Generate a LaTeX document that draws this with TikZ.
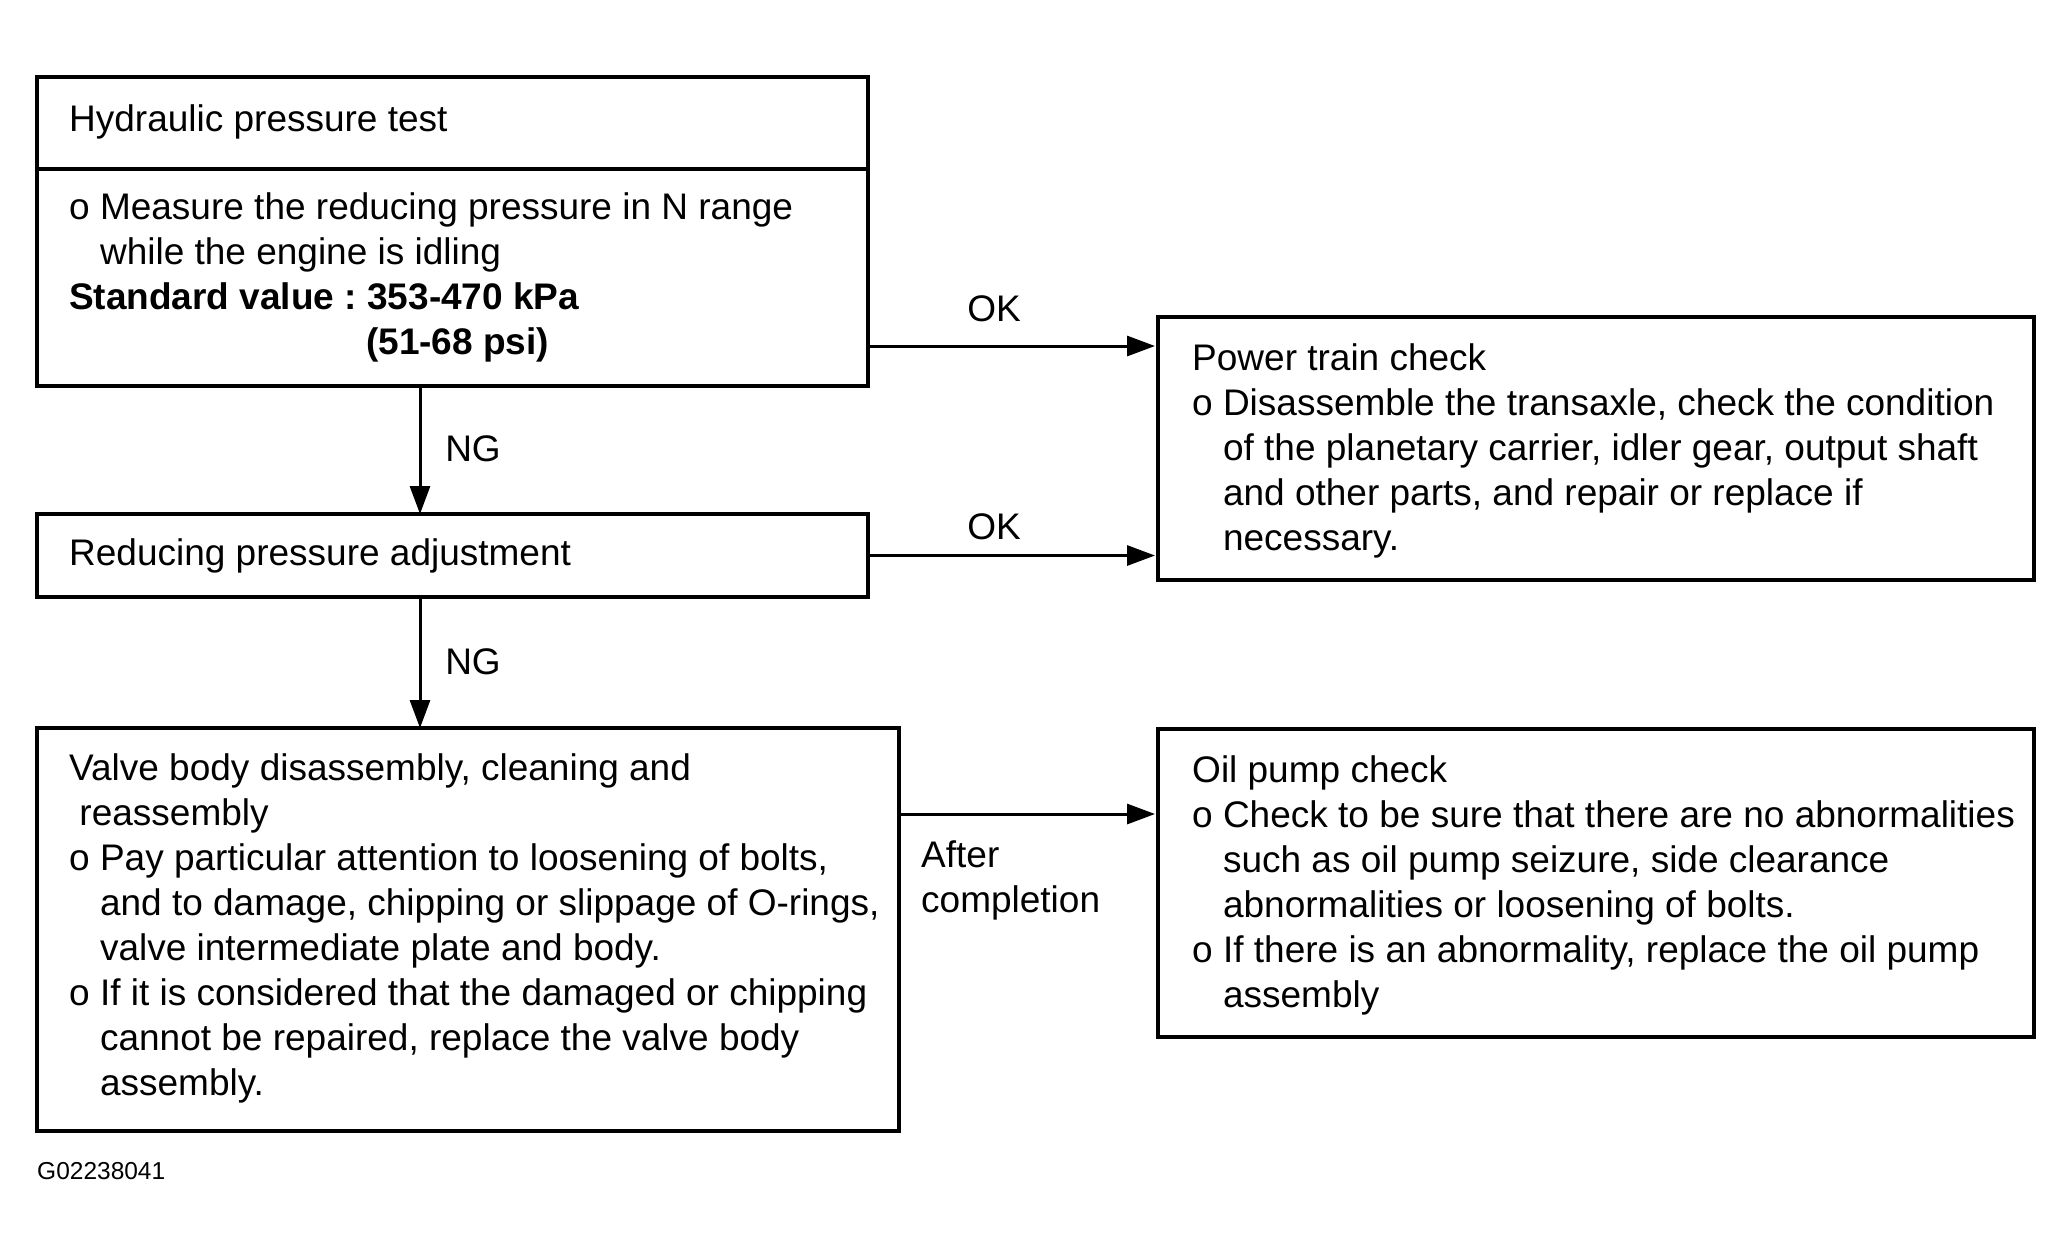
\documentclass[tikz,border=0pt]{standalone}
\usepackage{fontspec}
\setmainfont{Liberation Sans}
\usetikzlibrary{arrows.meta}
\newcommand{\ind}{\hphantom{o\ }}
\begin{document}
\frenchspacing
\begin{tikzpicture}[x=1pt,y=-1pt,
  every node/.style={font=\fontsize{37}{45}\selectfont},
  box/.style={draw, line width=4.5pt, outer sep=0pt, inner sep=0pt, anchor=center},
  txt/.style={anchor=west, align=left, inner sep=0pt},
  flow/.style={line width=3pt, -{Triangle[length=28pt,width=20pt]}},
  lbl/.style={inner sep=0pt}
]
\useasboundingbox[fill=white] (0,0) rectangle (2072,1254);

% left column boxes
\node[box, minimum width=831pt, minimum height=92pt]  (hdr)   at (452.5,123)   {};
\node[box, minimum width=831pt, minimum height=217pt] (body)  at (452.5,277.5) {};
\node[box, minimum width=831pt, minimum height=83pt]  (adj)   at (452.5,555.5) {};
\node[box, minimum width=862pt, minimum height=403pt] (valve) at (468,929.5)   {};

% right column boxes
\node[box, minimum width=876pt, minimum height=263pt] (ptc) at (1596,448.5) {};
\node[box, minimum width=876pt, minimum height=308pt] (oil) at (1596,883)   {};

% box texts
\node[txt] (hdrtxt) at ([xshift=32pt,yshift=1pt]hdr.west) {Hydraulic pressure test};
\node[txt] (bodytxt) at ([xshift=32pt]body.west)
  {o Measure the reducing pressure in N range\\
   \ind while the engine is idling\\
   \textbf{Standard value : 353-470 kPa}\\
   \hspace*{297pt}\textbf{(51-68 psi)}};
\node[txt] (adjtxt) at ([xshift=32pt]adj.west) {Reducing pressure adjustment};
\node[txt] (valvetxt) at ([xshift=32pt,yshift=1.5pt]valve.west)
  {Valve body disassembly, cleaning and\\
   \hphantom{\ }reassembly\\
   o Pay particular attention to loosening of bolts,\\
   \ind and to damage, chipping or slippage of O-rings,\\
   \ind valve intermediate plate and body.\\
   o If it is considered that the damaged or chipping\\
   \ind cannot be repaired, replace the valve body\\
   \ind assembly.};
\node[txt] (ptctxt) at ([xshift=34pt,yshift=-2pt]ptc.west)
  {Power train check\\
   o Disassemble the transaxle, check the condition\\
   \ind of the planetary carrier, idler gear, output shaft\\
   \ind and other parts, and repair or replace if\\
   \ind necessary.};
\node[txt] (oiltxt) at ([xshift=34pt,yshift=-2pt]oil.west)
  {Oil pump check\\
   o Check to be sure that there are no abnormalities\\
   \ind such as oil pump seizure, side clearance\\
   \ind abnormalities or loosening of bolts.\\
   o If there is an abnormality, replace the oil pump\\
   \ind assembly};

% connectors
\coordinate (okrow) at (0,346);
\coordinate (ngcol) at (420,0);
\coordinate (donerow) at (0,814);
\draw[flow] (body.east |- okrow) -- ([xshift=-3pt]ptc.west |- okrow);
\draw[flow] (adj.east) -- ([xshift=-3pt]ptc.west |- adj.east);
\draw[flow] (body.south -| ngcol) -- (adj.north -| ngcol);
\draw[flow] (adj.south -| ngcol) -- (valve.north -| ngcol);
\draw[flow] (valve.east |- donerow) -- ([xshift=-3pt]oil.west |- donerow);

% connector labels
\node[lbl] (ok1) at (994,309) {OK};
\node[lbl] (ok2) at (994,527) {OK};
\node[lbl] (ng1) at (473,449) {NG};
\node[lbl] (ng2) at (473,662) {NG};
\node[lbl, anchor=north west, align=left] (after) at (921,841) {After\\completion};

% drawing number
\node[lbl, anchor=west, font=\fontsize{24.5}{28}\selectfont] (fig) at (37,1171) {G02238041};
\end{tikzpicture}
\end{document}
